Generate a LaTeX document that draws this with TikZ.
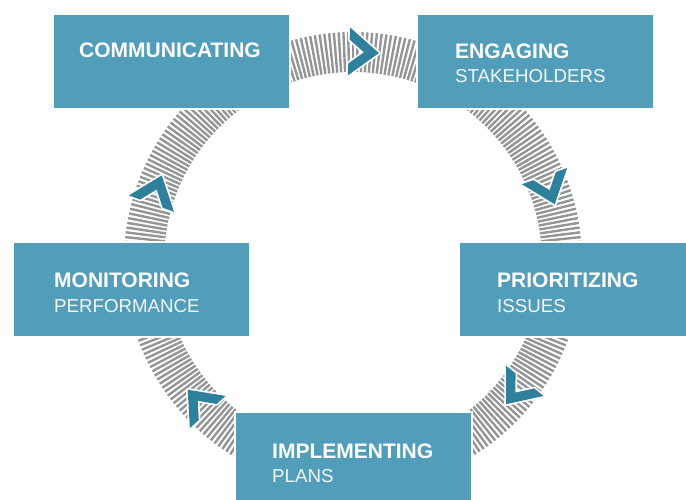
\documentclass[tikz,border=0pt]{standalone}
\usepackage{fontspec}
\setmainfont{Liberation Sans}
\definecolor{boxblue}{RGB}{82,158,186}
\definecolor{chevblue}{RGB}{46,128,156}
\definecolor{stripegray}{RGB}{147,149,152}
\begin{document}
\begin{tikzpicture}[x=1pt,y=-1pt,
  box/.style={fill=boxblue, draw=white, line width=1.5pt, inner sep=0pt, outer sep=0pt,
              minimum width=237pt, minimum height=95pt, anchor=north west},
  headtext/.style={anchor=base west, text=white, inner sep=0pt, font=\fontsize{21}{24}\selectfont\bfseries},
  subtext/.style={anchor=base west, text=white!92!boxblue, inner sep=0pt, font=\fontsize{18.7}{22}\selectfont},
  chev/.pic={
    \draw[white, line width=3.5pt, line join=round]
      (15,0) -- (-15,-24) -- (-15,-12) -- (0,0) -- (-15,12) -- (-15,24) -- cycle;
    \fill[chevblue]
      (15,0) -- (-15,-24) -- (-15,-12) -- (0,0) -- (-15,12) -- (-15,24) -- cycle;
  }]
\useasboundingbox (0,0) rectangle (686,499);
\fill[white] (0,0) rectangle (686,499);
% ring of radial stripes
\begin{scope}[shift={(353,261)}]
  \foreach \a in {0,1.2,...,359}
    \draw[stripegray, line width=2.4pt] (\a:189) -- (\a:229);
  \pic[rotate=-3] at (-87:209) {chev};
  \pic[rotate=-70.2] at (-19.8:209) {chev};
  \pic[rotate=-129] at (39:209) {chev};
  \pic[rotate=-228] at (138:209) {chev};
  \pic[rotate=-290] at (200:209) {chev};
\end{scope}
% boxes
\node[box] (comm) at (53,14) {};
\node[box] (eng) at (417,14) {};
\node[box, minimum width=240pt] (prio) at (459,242) {};
\node[box] (mon) at (13,242) {};
\node[box, minimum height=100pt] (impl) at (235,412) {};
% texts
\node[headtext] (commT) at (79,57) {COMMUNICATING};
\node[headtext] (engT) at (455,58) {ENGAGING};
\node[subtext] (engS) at (455,82) {STAKEHOLDERS};
\node[headtext] (prioT) at (497,287) {PRIORITIZING};
\node[subtext] (prioS) at (497,312) {ISSUES};
\node[headtext] (monT) at (54,287) {MONITORING};
\node[subtext] (monS) at (54,312) {PERFORMANCE};
\node[headtext] (implT) at (272,458) {IMPLEMENTING};
\node[subtext] (implS) at (272,482) {PLANS};
\end{tikzpicture}
\end{document}
